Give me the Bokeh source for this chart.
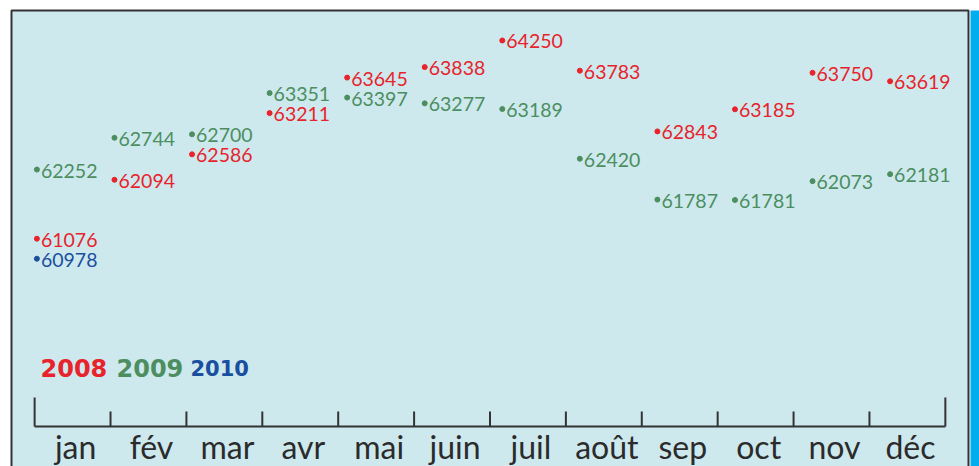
from bokeh.plotting import figure
from bokeh.models import Range1d
from bokeh.embed import file_html
from bokeh.resources import INLINE
from bokeh.core.properties import value

# ---- data ----
months = ["jan", "fév", "mar", "avr", "mai", "juin", "juil", "août", "sep", "oct", "nov", "déc"]
v2008 = [61076, 62094, 62586, 63211, 63645, 63838, 64250, 63783, 62843, 63185, 63750, 63619]
v2009 = [62252, 62744, 62700, 63351, 63397, 63277, 63189, 62420, 61787, 61781, 62073, 62181]
v2010 = [60978]
years = ["2008", "2009", "2010"]
colors = ["#e8232b", "#4c8e5f", "#1a4f9f"]

W, H = 979, 466
y0, y1 = 57656, 64869
p = figure(width=W, height=H, output_backend="svg", toolbar_location=None,
           x_range=Range1d(-0.4497, 12.45), y_range=Range1d(y0, y1),
           x_axis_type=None, y_axis_type=None, min_border=0)
p.extra_x_ranges = {"px": Range1d(0, W)}
p.extra_y_ranges = {"px": Range1d(H, 0)}
p.grid.visible = False
p.outline_line_color = None
p.background_fill_color = "white"
p.border_fill_color = "white"

# panel background + border, right blue stripe
p.quad(left=[11], right=[968], top=[10], bottom=[480], fill_color="#cde9ee",
       line_color="#333333", line_width=2, x_range_name="px", y_range_name="px")
p.quad(left=[970], right=[980], top=[10], bottom=[480], fill_color="#00aeef",
       line_color=None, x_range_name="px", y_range_name="px")

# axis line and ticks (month boundaries)
n = len(months)
p.segment(x0=[0], x1=[n], y0=[426], y1=[426], line_color="#333333", line_width=2,
          y_range_name="px")
inner = list(range(1, n))
p.segment(x0=inner, x1=inner, y0=[411] * len(inner), y1=[426] * len(inner),
          line_color="#333333", line_width=2, y_range_name="px")
p.segment(x0=[0, n], x1=[0, n], y0=[397, 397], y1=[426, 426],
          line_color="#333333", line_width=2, y_range_name="px")
p.text(x=[i + 0.54 for i in range(n)], y=[446] * n, text=months, y_range_name="px",
       text_align="center", text_baseline="middle", text_font=value("Lato"),
       text_font_size="32px", text_color="#2b2b2b")

# label dodging: keep labels of the same month at least min_gap pixels apart
series_vals = [v2008, v2009, v2010]
units_per_px = (y1 - y0) / H
min_gap = 20 * units_per_px
shown = [list(map(float, s)) for s in series_vals]
for i in range(n):
    items = [(s[i], k) for k, s in enumerate(series_vals) if i < len(s)]
    items.sort(reverse=True)
    pos = [v for v, _ in items]
    for _ in range(10):
        for j in range(len(pos) - 1):
            gap = pos[j] - pos[j + 1]
            if gap < min_gap:
                d = (min_gap - gap) / 2
                pos[j] += d
                pos[j + 1] -= d
    for (v, k), yy in zip(items, pos):
        shown[k][i] = yy

# points + labels
for k, (vals, color) in enumerate(zip(series_vals, colors)):
    xs = [i * 1.022 + 0.03 for i in range(len(vals))]
    ys = shown[k]
    p.scatter(xs, ys, size=5, color=color)
    p.text(xs, ys, text=[str(v) for v in vals], x_offset=4, y_offset=1,
           text_align="left", text_baseline="middle", text_font=value("Lato"),
           text_font_size="19.5px", text_color=color)

# legend years
lx = [40, 116, 190]
ls = ["24px", "24px", "21px"]
for x, t, c, s in zip(lx, years, colors, ls):
    p.text(x=[x], y=[367], text=[t], x_range_name="px", y_range_name="px",
           text_align="left", text_baseline="middle", text_font=value("DejaVu Sans"),
           text_font_style="bold", text_font_size=s, text_color=c)

open("out.html", "w").write(file_html(p, INLINE))
